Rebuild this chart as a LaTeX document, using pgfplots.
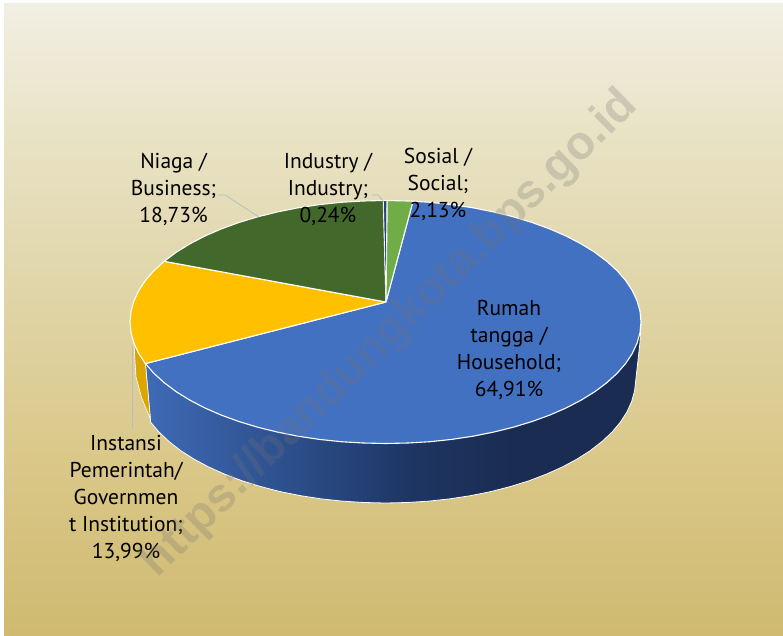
\documentclass[border=0pt]{standalone}
\usepackage{fontspec}
\setmainfont{PT Sans}
\newfontfamily\wmfont{Liberation Sans}
\usepackage{pgfplots}
\pgfplotsset{compat=1.18}
\definecolor{bTop}{HTML}{F1EFE3}
\definecolor{bA}{HTML}{E9E3C6}
\definecolor{bB}{HTML}{E0D5A8}
\definecolor{bC}{HTML}{DBC98B}
\definecolor{bBot}{HTML}{CFBA70}
\definecolor{wA}{HTML}{3F6AB5}
\definecolor{wB}{HTML}{2C4E8A}
\definecolor{wC}{HTML}{1E3563}
\definecolor{wD}{HTML}{1A2C52}
\definecolor{rumah}{HTML}{4271C2}
\definecolor{instansi}{HTML}{FFC000}
\definecolor{instansiside}{HTML}{DCA600}
\definecolor{niaga}{HTML}{43682B}
\definecolor{sosial}{HTML}{70AD47}
\definecolor{industry}{HTML}{264478}
\definecolor{leader}{HTML}{B8BCC4}
\pgfdeclareverticalshading{bgshade}{100bp}{color(0bp)=(bBot); color(25bp)=(bBot); color(40bp)=(bC); color(52bp)=(bB); color(65bp)=(bA); color(75bp)=(bTop); color(100bp)=(bTop)}
\pgfdeclarehorizontalshading{wallshade}{100bp}{color(0bp)=(wA); color(25bp)=(wA); color(40bp)=(wB); color(52bp)=(wC); color(62bp)=(wD); color(100bp)=(wD)}
\tikzset{lbl/.style={font=\fontsize{21.5}{27}\selectfont, align=center, text=black, inner sep=0pt}}
\begin{document}
\begin{tikzpicture}
\begin{axis}[
  scale only axis, width=783pt, height=635pt,
  xmin=0, xmax=783, ymin=0, ymax=635, y dir=reverse,
  axis lines=none, clip=false,
  every axis plot/.append style={no markers, forget plot},
]
\fill[white] (axis cs:0,0) rectangle (axis cs:783,635);
\fill[shading=bgshade] (axis cs:4,3) rectangle (axis cs:783,635);

% wall of the household slice
\addplot[shading=wallshade, draw=white, line width=0.8pt] coordinates {
(145.4,363.6) (150.6,422.1) (158.9,432) (169,441.5) (180.7,450.6) (194,459.1) (208.7,467) (224.8,474.2) (242.1,480.8) (260.5,486.5) (279.8,491.5) (300,495.6) (320.8,498.8) (342.1,501.1) (363.7,502.5) (385.5,503) (407.3,502.5) (428.9,501.1) (450.2,498.8) (471,495.6) (491.2,491.5) (510.5,486.5) (528.9,480.8) (546.2,474.2) (562.3,467) (577,459.1) (590.3,450.6) (602,441.5) (612.1,432) (620.4,422.1) (627,411.8) (631.7,401.4) (634.6,390.7) (640,342) (641,322) (400,322) (145.4,363.6)};
% wall of the government slice
\addplot[fill=instansiside, draw=white, line width=0.6pt] coordinates {
(133.9,343.1) (136,377) (141.7,398) (150.4,419) (145.4,363.6) (138.7,353.4) (133.9,343.1)};

% Rumah tangga 64,91
\addplot[fill=rumah, draw=white, line width=1.1pt] coordinates {
(386,302) (413,201.2) (429.9,202.3) (451.6,204.6) (472.9,207.8) (493.5,211.9) (513.3,216.8) (532.1,222.5) (549.7,228.9) (566.2,236.1) (581.2,243.9) (594.8,252.3) (606.8,261.3) (617.1,270.7) (625.6,280.4) (632.3,290.6) (637.1,300.9) (640,311.4) (641,322) (640,332.6) (637.1,343.1) (632.3,353.4) (625.6,363.6) (617.1,373.3) (606.8,382.7) (594.8,391.7) (581.2,400.1) (566.2,407.9) (549.7,415.1) (532.1,421.5) (513.3,427.2) (493.5,432.1) (472.9,436.2) (451.6,439.4) (429.9,441.7) (407.8,443) (385.5,443.5) (363.2,443) (341.1,441.7) (319.4,439.4) (298.1,436.2) (277.5,432.1) (257.7,427.2) (238.9,421.5) (221.3,415.1) (204.8,407.9) (189.8,400.1) (176.2,391.7) (164.2,382.7) (153.9,373.3) (145.4,363.6) (386,302)};
% Instansi 13,99
\addplot[fill=instansi, draw=white, line width=1.1pt] coordinates {
(386,302) (145.4,363.6) (138.7,353.4) (133.9,343.1) (131,332.6) (130,322) (131,311.4) (133.9,300.9) (138.7,290.6) (145.4,280.4) (153.9,270.7) (164.2,261.3) (386,302)};
% Niaga 18,73
\addplot[fill=niaga, draw=white, line width=1.1pt] coordinates {
(386,302) (164.2,261.3) (176.2,252.3) (189.8,243.9) (204.8,236.1) (221.3,228.9) (238.9,222.5) (257.7,216.8) (277.5,211.9) (298.1,207.8) (319.4,204.6) (341.1,202.3) (363.2,201) (383.3,200.5) (386,302)};
% Sosial 2,13
\addplot[fill=sosial, draw=white, line width=1.1pt] coordinates {
(386,302) (387.2,200.5) (407.8,201) (413,201.2) (386,302)};
% Industry 0,24
\addplot[fill=industry, draw=white, line width=0.6pt] coordinates {
(386,302) (383.4,200.5) (386.8,200.5) (386,302)};

% leader lines
\addplot[leader, line width=0.8pt] coordinates {(218,195) (225,195) (259,217)};
\addplot[leader, line width=0.8pt] coordinates {(372,195) (378,195) (384,202)};
\addplot[leader, line width=0.8pt] coordinates {(132,345) (132,429)};

% labels
\node[lbl] at (axis cs:173.5,189.5) {Niaga /\\Business;\\18,73\%};
\node[lbl] at (axis cs:328,189.5) {Industry /\\Industry;\\0,24\%};
\node[lbl] at (axis cs:438,184.5) {Sosial /\\Social;\\2,13\%};
\node[lbl] at (axis cs:509,349.5) {Rumah\\tangga /\\Household;\\64,91\%};
\node[lbl] at (axis cs:126,498) {Instansi\\Pemerintah/\\Governmen\\t Institution;\\13,99\%};

% watermark
\node[rotate=44.4, font=\wmfont\bfseries\fontsize{47}{47}\selectfont, text=black!55, text opacity=0.26, inner sep=0pt] at (axis cs:390,334) {https://bandungkota.bps.go.id};
\end{axis}
\end{tikzpicture}
\end{document}
